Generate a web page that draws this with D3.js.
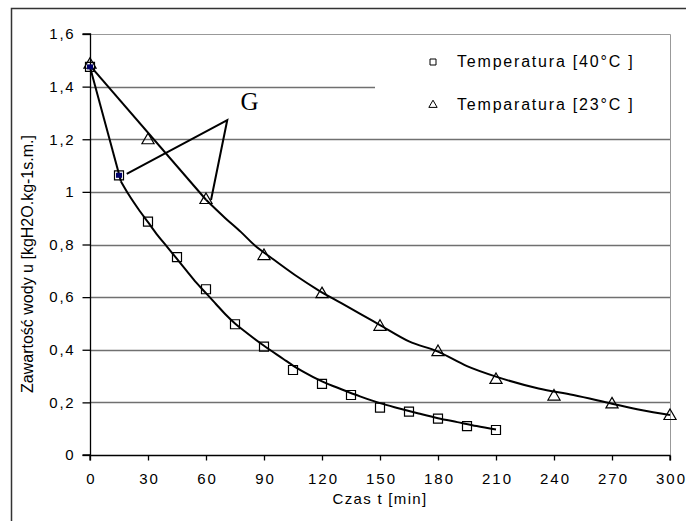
<!DOCTYPE html>
<html><head><meta charset="utf-8">
<script src="https://cdn.jsdelivr.net/npm/d3@7"></script>
<style>
body{margin:0;background:#fff;}
text{font-family:"Liberation Sans",Arial,sans-serif;fill:#000;}
</style></head>
<body><svg id="c" width="686" height="521"></svg>
<script>
// ---- data ----
const xTicks = [0,30,60,90,120,150,180,210,240,270,300];
const yTicks = [0,0.2,0.4,0.6,0.8,1.0,1.2,1.4,1.6];
const yTickLabels = ["0","0,2","0,4","0,6","0,8","1","1,2","1,4","1,6"];
const time40 = [0,15,30,45,60,75,90,105,120,135,150,165,180,195,210];
const u40 = [1.475,1.063,0.887,0.752,0.63,0.497,0.412,0.323,0.27,0.228,0.18,0.165,0.138,0.11,0.095];
const time23 = [0,30,60,90,120,150,180,210,240,270,300];
const u23 = [1.487,1.20,0.973,0.76,0.615,0.491,0.395,0.289,0.226,0.196,0.152];
// straight initial segments, then fitted curves
const start40 = [[0,1.475],[16,1.04]];
const fit40 = [[16,1.04],[20,0.99],[25,0.935],[30,0.885],[35,0.835],[40,0.79],[45,0.745],[50,0.7],[55,0.655],[60,0.615],[65,0.575],[70,0.535],[75,0.5],[80,0.47],[90,0.415],[100,0.365],[105,0.34],[110,0.318],[120,0.28],[130,0.25],[140,0.222],[150,0.197],[160,0.177],[170,0.158],[180,0.14],[190,0.125],[200,0.11],[210,0.097]];
const start23 = [[0,1.48],[60,0.97]];
const fit23 = [[60,0.97],[70,0.9],[78,0.848],[85,0.798],[94,0.748],[106,0.684],[118,0.627],[130,0.577],[140,0.535],[150,0.494],[165,0.432],[180,0.393],[195,0.338],[210,0.298],[232,0.253],[250,0.228],[270,0.195],[285,0.171],[300,0.152]];
const pointerG = [[19,1.068],[71,1.273],[62.6,0.969]];
const labelG = {t:82.5, u:1.31, text:"G"};
const legendLabels = ["Temperatura [40°C ]","Temparatura [23°C ]"];
const xTitle = "Czas t [min]";
const yTitle = "Zawartość wody u [kgH2O.kg-1s.m.]";

// ---- layout ----
const svg = d3.select("#c");
const L=90, R=670, T=34, B=455;
const x = d3.scaleLinear().domain([0,300]).range([L,R]);
const y = d3.scaleLinear().domain([0,1.6]).range([B,T]);

// outer frame
svg.append("path").attr("d",`M11.5,521 L11.5,8.5 L686,8.5`).attr("fill","none").attr("stroke","#333").attr("stroke-width",1.5);

// gridlines
svg.append("g").selectAll("line").data(yTicks.filter(v=>v>0&&v<1.6)).join("line")
  .attr("x1",L).attr("x2",R).attr("y1",d=>Math.round(y(d))+0.5).attr("y2",d=>Math.round(y(d))+0.5)
  .attr("stroke","#707070").attr("stroke-width",1.3);
// plot border top/right
svg.append("path").attr("d",`M${L},${T+0.5} L${R+0.5},${T+0.5} L${R+0.5},${B}`).attr("fill","none").attr("stroke","#999").attr("stroke-width",1);

// legend background
svg.append("rect").attr("x",375).attr("y",T+1).attr("width",R-375).attr("height",92).attr("fill","#fff");

// axes
const yAxis = d3.axisLeft(y).tickValues(yTicks).tickFormat((d,i)=>yTickLabels[i]).tickSize(8).tickPadding(7);
const gy = svg.append("g").attr("transform",`translate(${L+0.5},0)`).call(yAxis);
const xAxis = d3.axisBottom(x).tickValues(xTicks).tickSize(5).tickPadding(13);
const gx = svg.append("g").attr("transform",`translate(0,${B+0.5})`).call(xAxis);
[gx,gy].forEach(g=>{
  g.select(".domain").attr("stroke","#000").attr("stroke-width",1.3);
  g.selectAll(".tick line").attr("stroke","#000").attr("stroke-width",1.3);
  g.selectAll(".tick text").attr("font-family","Liberation Sans, Arial").attr("font-size",15).attr("fill","#000");
});
gy.selectAll(".tick text").attr("letter-spacing","1.8px");
gx.selectAll(".tick text").attr("letter-spacing","2px").attr("dx","1");
gx.select(".domain").attr("d",`M${L},5V0H${R}V5`);
gy.select(".domain").attr("d",`M-8,${B}H0V${T}H-8`);

// fitted lines
const straight = d3.line().x(d=>x(d[0])).y(d=>y(d[1]));
const line = d3.line().x(d=>x(d[0])).y(d=>y(d[1])).curve(d3.curveMonotoneX);
[start40,start23].forEach(s=>svg.append("path").datum(s).attr("d",straight).attr("fill","none").attr("stroke","#000").attr("stroke-width",2));
[fit40,fit23].forEach(s=>svg.append("path").datum(s).attr("d",line).attr("fill","none").attr("stroke","#000").attr("stroke-width",2));

// pointer lines for G
svg.append("path").datum(pointerG).attr("d",straight)
  .attr("fill","none").attr("stroke","#000").attr("stroke-width",2);
svg.append("text").attr("x",x(labelG.t)).attr("y",y(labelG.u)).attr("text-anchor","middle")
  .style("font-family","Liberation Serif, Times New Roman, serif").attr("font-size",25).text(labelG.text);

// markers
const sq = d3.symbol().type(d3.symbolSquare).size(81);
const tri = d3.symbol().type(d3.symbolTriangle).size(64);
svg.append("g").selectAll("path").data(time40.map((t,i)=>[t,u40[i]])).join("path")
  .attr("transform",d=>`translate(${x(d[0])},${y(d[1])})`).attr("d",sq)
  .attr("fill","none").attr("stroke","#000").attr("stroke-width",1.2);
svg.append("g").selectAll("path").data(time23.map((t,i)=>[t,u23[i]])).join("path")
  .attr("transform",d=>`translate(${x(d[0])},${y(d[1])+1})`).attr("d",tri)
  .attr("fill","none").attr("stroke","#000").attr("stroke-width",1.2);
// highlighted (blue) first points of 40°C
svg.append("g").selectAll("rect").data(time40.slice(0,2).map((t,i)=>[t,u40[i]])).join("rect")
  .attr("x",d=>x(d[0])-3).attr("y",d=>y(d[1])-2.5).attr("width",6).attr("height",5).attr("fill","#00006a");

// legend
const lg = svg.append("g");
lg.append("path").attr("transform","translate(433,62)").attr("d",d3.symbol().type(d3.symbolSquare).size(36)).attr("fill","none").attr("stroke","#000").attr("stroke-width",1);
lg.append("path").attr("transform","translate(433,105)").attr("d",d3.symbol().type(d3.symbolTriangle).size(30)).attr("fill","none").attr("stroke","#000").attr("stroke-width",1);
lg.selectAll("text").data(legendLabels).join("text")
  .attr("x",457).attr("y",(d,i)=>67+i*43).attr("font-size",16).attr("letter-spacing","1.8px").text(d=>d);

// titles
svg.append("text").attr("x",380).attr("y",504).attr("text-anchor","middle").attr("font-size",15).attr("letter-spacing","1.3px").text(xTitle);
svg.append("text").attr("transform","translate(33,264) rotate(-90)").attr("text-anchor","middle").attr("font-size",16).text(yTitle);
</script></body></html>
